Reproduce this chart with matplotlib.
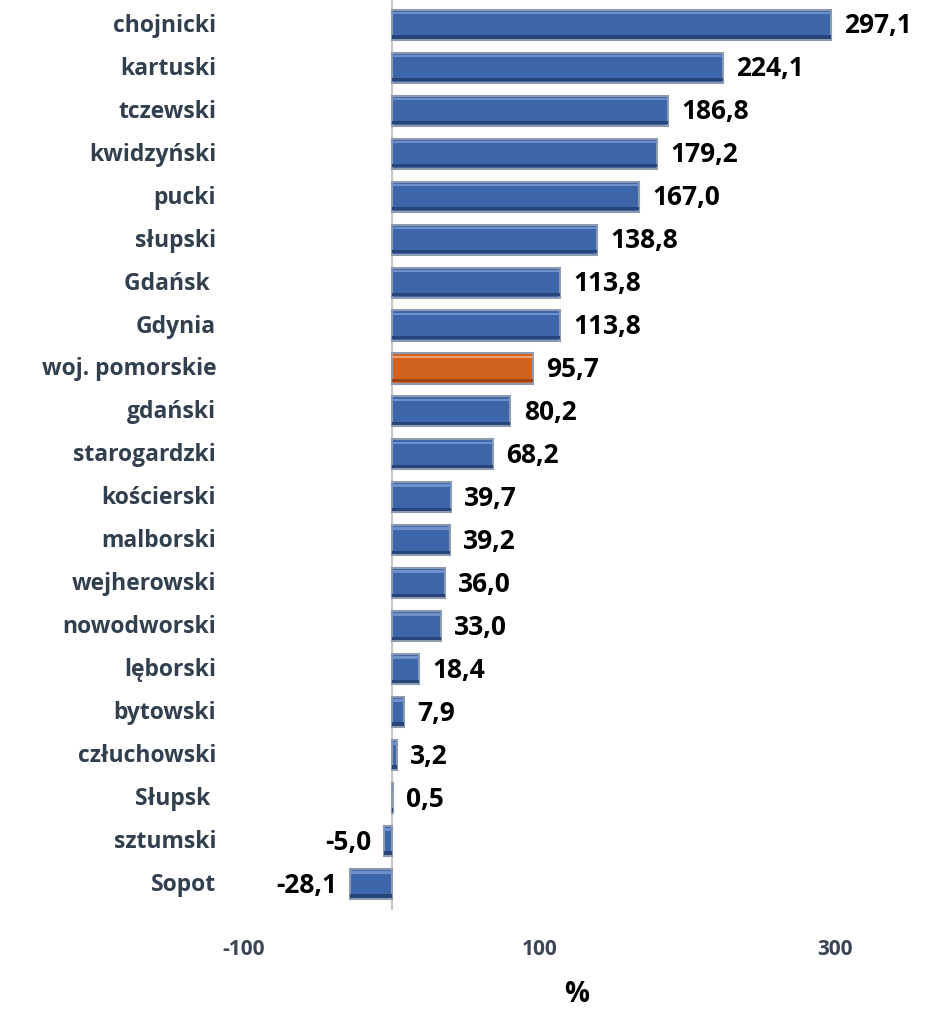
import matplotlib.pyplot as plt
import numpy as np

# dane
powiaty = ['chojnicki', 'kartuski', 'tczewski', 'kwidzyński', 'pucki', 'słupski',
           'Gdańsk ', 'Gdynia', 'woj. pomorskie', 'gdański', 'starogardzki',
           'kościerski', 'malborski', 'wejherowski', 'nowodworski', 'lęborski',
           'bytowski', 'człuchowski', 'Słupsk ', 'sztumski', 'Sopot']
wartosci = [297.1, 224.1, 186.8, 179.2, 167.0, 138.8, 113.8, 113.8, 95.7, 80.2,
            68.2, 39.7, 39.2, 36.0, 33.0, 18.4, 7.9, 3.2, 0.5, -5.0, -28.1]
xticks = [-100, 100, 300]

plt.rcParams['font.family'] = ['Open Sans', 'DejaVu Sans']

fig = plt.figure(figsize=(9.46, 10.12), dpi=100)
ax = fig.add_axes([0.258, 0.1, 0.703, 0.9])

y = np.arange(len(powiaty))[::-1]
kolory = ['#d0621f' if p == 'woj. pomorskie' else '#3d65aa' for p in powiaty]
ax.axvline(0, color='#c8c8c8', lw=1.5, zorder=1)
bars = ax.barh(y, wartosci, height=0.7, color=kolory, edgecolor='#8e9aae', lw=1.5, zorder=2)
# jasniejszy pasek u gory i ciemny u dolu - imitacja fazowania
for b, v, k in zip(bars, wartosci, kolory):
    jasny = '#f0a070' if k != '#3d65aa' else '#6f90c8'
    ciemny = '#9c4512' if k != '#3d65aa' else '#27457a'
    ax.barh(b.get_y() + 0.62, v, height=0.06, left=0, color=jasny, lw=0, zorder=3)
    ax.barh(b.get_y() + 0.07, v, height=0.08, left=0, color=ciemny, lw=0, zorder=3)

for yy, v in zip(y, wartosci):
    txt = f'{v:.1f}'.replace('.', ',')
    if v >= 0:
        ax.text(v + 9, yy, txt, ha='left', va='center', fontsize=19, fontweight='bold', color='black')
    else:
        ax.text(v - 9, yy, txt, ha='right', va='center', fontsize=19, fontweight='bold', color='black')

ax.set_xlim(-100, 350)
ax.set_ylim(-0.6, len(powiaty) - 0.4)
ax.set_xticks(xticks)
ax.set_xticklabels([str(t) for t in xticks], fontsize=15, fontweight='bold', color='#3b4556')
ax.set_yticks([])
for p, yy in zip(powiaty, y):
    ax.text(-0.042, yy, p, transform=ax.get_yaxis_transform(), ha='right', va='center',
            fontsize=16.5, fontweight='bold', color='#323f4f')
ax.tick_params(axis='x', length=0, pad=20)
for s in ax.spines.values():
    s.set_visible(False)
ax.set_xlabel('%', fontsize=20, fontweight='bold', labelpad=15)

fig.savefig('out.png', dpi=100)
